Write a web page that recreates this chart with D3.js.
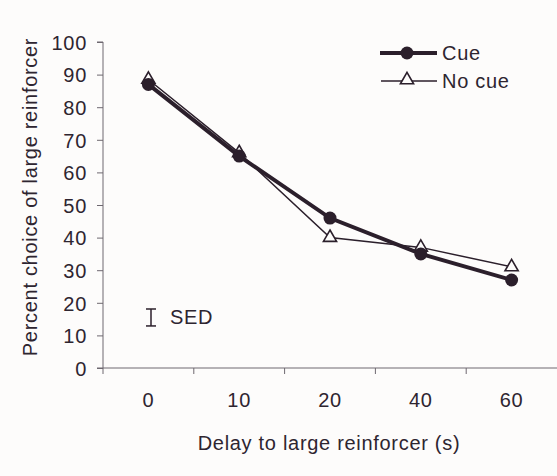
<!DOCTYPE html>
<html><head><meta charset="utf-8">
<script src="https://cdn.jsdelivr.net/npm/d3@7"></script>
<style>body{margin:0;background:#fdfcfb}svg{display:block}text{font-family:"Liberation Sans",Arial,sans-serif;fill:#2e2530;letter-spacing:0.7px}</style>
</head><body>
<script>
const categories = ["0","10","20","40","60"];
const cueValues = [87, 65, 46, 35, 27];
const noCueValues = [88.5, 66, 40, 37, 31];
const yTicks = [0,10,20,30,40,50,60,70,80,90,100];
const sed = {center: 15.5, half: 2.6};

const W = 557, H = 476;
const FS = 20;
const svg = d3.select("body").append("svg").attr("width", W).attr("height", H);
const x = d3.scaleBand().domain(categories).range([103, 557]);
const y = d3.scaleLinear().domain([0, 100]).range([368, 42]);
const ink = "#2b1f2b", axisCol = "#6e6870";

// y axis
const ya = svg.append("g").attr("transform", "translate(103,0)")
  .call(d3.axisLeft(y).tickValues(yTicks).tickSize(6).tickPadding(10));
ya.select(".domain").attr("stroke", axisCol).attr("d", `M-6,${y(100)}H0V${y(0)+6}`);
ya.selectAll(".tick line").attr("stroke", axisCol);
ya.selectAll(".tick text").attr("font-size", FS).attr("fill", "#2e2530")
  .style("font-family", "Liberation Sans, Arial, sans-serif").attr("dy", "0.36em");

// x axis
const xg = svg.append("g").attr("transform", `translate(0,${y(0)})`);
xg.append("line").attr("x1", 97).attr("x2", 557).attr("stroke", axisCol);
categories.slice(1).forEach(c => {
  xg.append("line").attr("x1", x(c)).attr("x2", x(c)).attr("y1", 0).attr("y2", 6).attr("stroke", axisCol);
});
xg.selectAll("text.xl").data(categories).enter().append("text")
  .attr("x", d => x(d) + x.bandwidth()/2).attr("y", 39)
  .attr("text-anchor", "middle").attr("font-size", FS).text(d => d);

// labels
svg.append("text").attr("x", 329).attr("y", 450).attr("text-anchor", "middle")
  .attr("font-size", FS).text("Delay to large reinforcer (s)");
svg.append("text").attr("transform", "translate(37,197) rotate(-90)").attr("text-anchor", "middle")
  .attr("font-size", FS).text("Percent choice of large reinforcer");

const cx = (d, i) => x(categories[i]) + x.bandwidth()/2;
const line = d3.line().x((d, i) => cx(d, i)).y(d => y(d));
const tri = d3.symbol().type(d3.symbolTriangle).size(75);

// no cue
svg.append("path").datum(noCueValues).attr("d", line).attr("fill", "none").attr("stroke", ink).attr("stroke-width", 1.5);
svg.selectAll("path.tri").data(noCueValues).enter().append("path").attr("class", "tri")
  .attr("d", tri).attr("transform", (d, i) => `translate(${cx(d, i)},${y(d)})`)
  .attr("fill", "#fdfcfb").attr("stroke", ink).attr("stroke-width", 1.6);

// cue
svg.append("path").datum(cueValues).attr("d", line).attr("fill", "none").attr("stroke", ink).attr("stroke-width", 4);
svg.selectAll("circle.cue").data(cueValues).enter().append("circle").attr("class", "cue")
  .attr("cx", (d, i) => cx(d, i)).attr("cy", d => y(d)).attr("r", 6.5).attr("fill", ink);

// legend
const lg = svg.append("g");
lg.append("line").attr("x1", 380).attr("x2", 437).attr("y1", 53).attr("y2", 53).attr("stroke", ink).attr("stroke-width", 4);
lg.append("circle").attr("cx", 407).attr("cy", 53).attr("r", 6.5).attr("fill", ink);
lg.append("text").attr("x", 442).attr("y", 60).attr("font-size", FS).text("Cue");
lg.append("line").attr("x1", 381).attr("x2", 437).attr("y1", 81).attr("y2", 81).attr("stroke", ink).attr("stroke-width", 1.5);
lg.append("path").attr("d", tri).attr("transform", "translate(407,80)").attr("fill", "#fdfcfb").attr("stroke", ink).attr("stroke-width", 1.6);
lg.append("text").attr("x", 442).attr("y", 88).attr("font-size", FS).text("No cue");

// SED bar
const sg = svg.append("g").attr("stroke", ink).attr("stroke-width", 1.5);
const sx = 151;
sg.append("line").attr("x1", sx).attr("x2", sx).attr("y1", y(sed.center + sed.half)).attr("y2", y(sed.center - sed.half));
sg.append("line").attr("x1", sx-5).attr("x2", sx+5).attr("y1", y(sed.center + sed.half)).attr("y2", y(sed.center + sed.half));
sg.append("line").attr("x1", sx-5).attr("x2", sx+5).attr("y1", y(sed.center - sed.half)).attr("y2", y(sed.center - sed.half));
svg.append("text").attr("x", 170).attr("y", 324).attr("font-size", FS).text("SED");
</script>
</body></html>
